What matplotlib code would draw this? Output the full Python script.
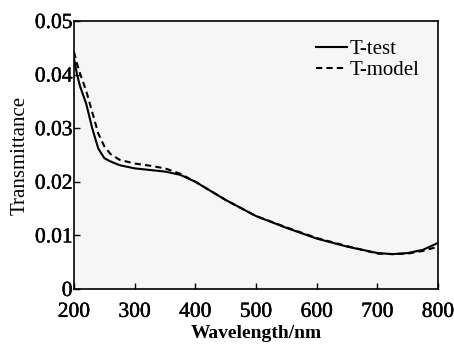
import matplotlib
matplotlib.use("Agg")
import matplotlib.pyplot as plt
import matplotlib.patheffects as pe

# Wavelength points (nm) and transmittance values
wl = [200, 205, 210, 220, 230, 240, 250, 260, 275, 300, 325, 350, 375, 400,
      450, 500, 550, 600, 650, 700, 725, 750, 775, 800]
t_test = [0.0430, 0.0400, 0.0378, 0.0346, 0.0300, 0.0262, 0.0244, 0.0238, 0.0231,
          0.0225, 0.0222, 0.0219, 0.0213, 0.0200, 0.0166, 0.0136, 0.0114,
          0.0094, 0.0079, 0.0067, 0.0065, 0.0067, 0.0073, 0.0086]
t_model = [0.0442, 0.0420, 0.0402, 0.0370, 0.0330, 0.0290, 0.0266, 0.0252, 0.0241,
           0.0234, 0.0230, 0.0225, 0.0215, 0.0200, 0.0166, 0.0136, 0.0115,
           0.0095, 0.0080, 0.0066, 0.0065, 0.0066, 0.0071, 0.0079]

xticks = [200, 300, 400, 500, 600, 700, 800]
yticks = [0, 0.01, 0.02, 0.03, 0.04, 0.05]
ytick_labels = ["0", "0.01", "0.02", "0.03", "0.04", "0.05"]

plt.rcParams["font.family"] = ["Liberation Serif", "DejaVu Serif"]

fig = plt.figure(figsize=(4.54, 3.44), dpi=100)
ax = fig.add_axes([0.163, 0.160, 0.802, 0.779])
ax.set_facecolor("#f6f6f6")

ax.plot(wl, t_test, color="black", lw=1.5, label="T-test")
ax.plot(wl, t_model, color="black", lw=1.5, ls=(0, (3, 2)), label="T-model")

ax.set_xlim(200, 800)
ax.set_ylim(0, 0.05)
ax.set_xticks(xticks)
ax.set_yticks(yticks)
ax.set_yticklabels(ytick_labels)
ax.tick_params(direction="in", length=4, width=1, labelsize=15.5)
ax.tick_params(axis="x", pad=10)
ax.tick_params(axis="y", pad=1)
# slightly heavier digits, like the scanned original
thick = [pe.withStroke(linewidth=0.3, foreground="black")]
for lab in ax.get_xticklabels() + ax.get_yticklabels():
    lab.set_path_effects(thick)
for s in ax.spines.values():
    s.set_linewidth(1.2)

ax.set_xlabel("Wavelength/nm", fontsize=14, fontweight="bold", va="baseline")
ax.xaxis.set_label_coords(0.5, -0.183)
ax.set_ylabel("Transmittance", fontsize=15, labelpad=4)

ax.legend(loc="upper right", frameon=False, fontsize=15, handlelength=1.5,
          handletextpad=0.1, labelspacing=0.05, borderaxespad=0.6,
          borderpad=0.3)

fig.savefig("out.png", dpi=100)
